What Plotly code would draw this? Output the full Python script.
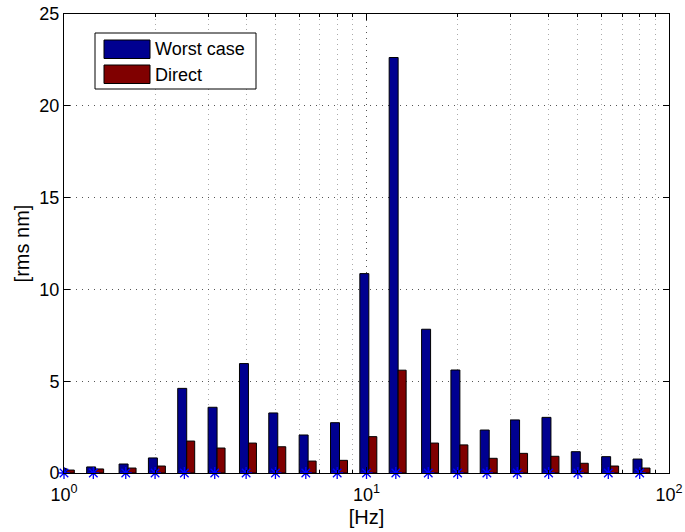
import numpy as np
import plotly.graph_objects as go

# third-octave centre frequencies [Hz]
freqs = [1, 1.25, 1.6, 2, 2.5, 3.15, 4, 5, 6.3, 8,
         10, 12.5, 16, 20, 25, 31.5, 40, 50, 63, 80]
worst_case = [0.25, 0.33, 0.49, 0.82, 4.61, 3.58, 5.96, 3.27, 2.07, 2.74,
              10.86, 22.63, 7.83, 5.61, 2.34, 2.89, 3.03, 1.16, 0.89, 0.76]
direct = [0.16, 0.22, 0.27, 0.38, 1.74, 1.36, 1.63, 1.43, 0.65, 0.69,
          1.98, 5.60, 1.63, 1.53, 0.80, 1.07, 0.91, 0.53, 0.38, 0.27]
xtick_vals = [1, 10, 100]
xtick_text = ["10<sup>0</sup>", "10<sup>1</sup>", "10<sup>2</sup>"]
ytick_vals = [0, 5, 10, 15, 20, 25]
series_names = ["Worst case", "Direct"]
series_colors = ["#000090", "#800000"]

lx = np.log10(freqs)
font = "Liberation Sans, Arial, Helvetica, sans-serif"

L, R, T, B = 64, 16, 14, 59
W, H = 685, 532

fig = go.Figure()
fig.add_trace(go.Bar(x=lx, y=worst_case, name=series_names[0], offset=-0.022, width=0.0297,
                     marker=dict(color=series_colors[0], line=dict(color="black", width=1)),
                     showlegend=False))
fig.add_trace(go.Bar(x=lx, y=direct, name=series_names[1], offset=0.0077, width=0.0264,
                     marker=dict(color=series_colors[1], line=dict(color="black", width=1)),
                     showlegend=False))
fig.add_trace(go.Scatter(x=lx, y=[0] * len(freqs), mode="markers",
                         marker=dict(symbol="asterisk-open", color="blue", size=10,
                                     line=dict(color="blue", width=1.3)),
                         cliponaxis=False, showlegend=False, hoverinfo="skip"))

minor_vals = [np.log10(k * 10 ** d) for d in (0, 1) for k in range(2, 10)]

fig.update_layout(
    width=W, height=H,
    margin=dict(l=L, r=R, t=T, b=B),
    paper_bgcolor="white", plot_bgcolor="white",
    barmode="overlay",
    font=dict(family=font, size=18, color="black"),
    xaxis=dict(
        range=[0, 2], tickmode="array", tickvals=list(np.log10(xtick_vals)), ticktext=xtick_text,
        ticks="inside", ticklen=6, tickcolor="black", showline=True, linecolor="black",
        linewidth=1, mirror="ticks", showgrid=True, gridcolor="#555", griddash="1px,5px",
        gridwidth=1, zeroline=False, automargin=False, ticklabelstandoff=5,
        minor=dict(tickmode="array", tickvals=minor_vals, ticks="inside", ticklen=3,
                   tickcolor="black", showgrid=True, gridcolor="#aaa", griddash="1px,4px",
                   gridwidth=1),
        title=dict(text="[Hz]", font=dict(size=20), standoff=6),
        tickfont=dict(size=18),
    ),
    yaxis=dict(
        range=[0, 25], tickmode="array", tickvals=ytick_vals,
        ticks="inside", ticklen=6, tickcolor="black", showline=True, linecolor="black",
        linewidth=1, mirror="ticks", showgrid=True, gridcolor="#555", griddash="1px,5px",
        gridwidth=1, zeroline=False, automargin=False,
        title=dict(text="[rms nm]", font=dict(size=20), standoff=4),
        tickfont=dict(size=18),
    ),
)

# MATLAB-style legend box
def px2paper_x(px):
    return (px - L) / (W - L - R)

def px2paper_y(py):
    return 1 - (py - T) / (H - T - B)

fig.add_shape(type="rect", xref="paper", yref="paper",
              x0=px2paper_x(95), x1=px2paper_x(256), y0=px2paper_y(89), y1=px2paper_y(33),
              line=dict(color="black", width=1), fillcolor="white", layer="above")
for i, (nm, col) in enumerate(zip(series_names, series_colors)):
    top = 40 + i * 25
    fig.add_shape(type="rect", xref="paper", yref="paper",
                  x0=px2paper_x(104), x1=px2paper_x(150), y0=px2paper_y(top + 18.5), y1=px2paper_y(top),
                  line=dict(color="black", width=1), fillcolor=col, layer="above")
    fig.add_annotation(xref="paper", yref="paper", x=px2paper_x(153), y=px2paper_y(top + 9.5),
                       text=nm, showarrow=False, xanchor="left", yanchor="middle",
                       font=dict(size=18, family=font, color="black"))

fig.write_html("out.html", config={"displayModeBar": False},
               post_script="document.body.style.margin='0';document.body.style.overflow='hidden';")
